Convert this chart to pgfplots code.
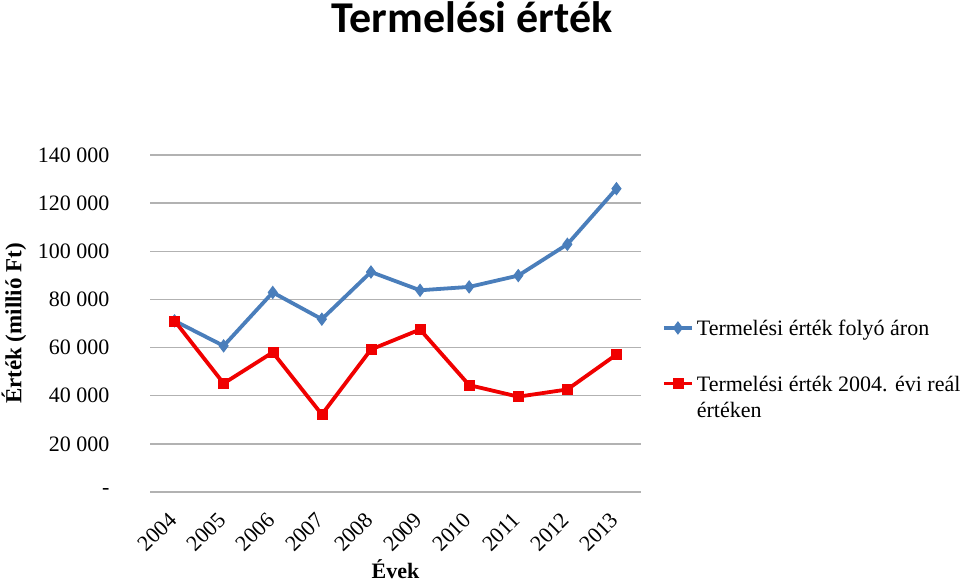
\documentclass[border=0pt]{standalone}
\usepackage{pgfplots}
\pgfplotsset{compat=1.18}
\usepackage{fontspec}
\setmainfont{Liberation Serif}
\newfontfamily\titlefont{Carlito}
\definecolor{bl}{RGB}{74,126,187}
\definecolor{rd}{RGB}{240,0,0}
\definecolor{gr}{RGB}{178,178,178}
\begin{document}
\fontsize{22bp}{26bp}\selectfont
\begin{tikzpicture}[x=1bp,y=1bp]
\path[use as bounding box] (0,0) rectangle (960,582);
\node[font=\titlefont\bfseries\fontsize{44bp}{48bp}\selectfont, anchor=base] at (472,549) {Termelési érték};
\begin{axis}[at={(150bp,90bp)}, anchor=south west, scale only axis,
  width=491bp, height=337bp,
  xmin=-0.5, xmax=9.5, ymin=0, ymax=140000,
  scaled y ticks=false,
  xtick={0,1,2,3,4,5,6,7,8,9},
  xticklabels={2004,2005,2006,2007,2008,2009,2010,2011,2012,2013},
  ytick={0,20000,40000,60000,80000,100000,120000,140000},
  yticklabels={-\hspace{15bp},20 000,40 000,60 000,80 000,100 000,120 000,140 000},
  axis line style={draw=none}, major tick length=0pt,
  ymajorgrids, grid style={gr, line width=1.5bp},
  tick label style={font=\fontsize{22bp}{26bp}\selectfont},
  yticklabel style={anchor=east, xshift=-33bp},
  xticklabel style={rotate=45, anchor=east, yshift=-16bp, xshift=-11bp},
  xlabel={Évek}, ylabel={Érték (millió Ft)},
  every axis x label/.style={at={(axis description cs:0.5,-0.228)}, anchor=center, font=\bfseries\fontsize{22bp}{26bp}\selectfont},
  every axis y label/.style={at={(axis description cs:-0.277,0.5)}, anchor=center, rotate=90, font=\bfseries\fontsize{23bp}{26bp}\selectfont},
  legend style={draw=none, fill=none, at={(axis description cs:1.0428,0.509)}, anchor=north west,
    inner sep=0pt, outer sep=0pt, row sep=37bp, column sep=3bp, font=\fontsize{22bp}{26bp}\selectfont},
  legend cell align=left,
  legend image code/.code={\draw[mark repeat=2,mark phase=2] plot coordinates {(0bp,0bp)(14bp,0bp)(28bp,0bp)};},
]
\addplot[bl, line width=3.8bp, mark=diamond*, mark size=6bp, mark options={solid, fill=bl, line width=1bp}]
  coordinates {(0,71100)(1,60700)(2,82900)(3,71800)(4,91400)(5,83800)(6,85200)(7,89900)(8,102900)(9,126000)};
\addlegendentry[anchor=base west, yshift=-8bp, inner sep=0pt]{Termelési érték folyó áron}
\addplot[rd, line width=3.8bp, mark=square*, mark size=5bp, mark options={solid, fill=rd, line width=0.5bp}]
  coordinates {(0,71100)(1,45100)(2,58000)(3,32200)(4,59200)(5,67500)(6,44400)(7,39600)(8,42600)(9,57100)};
\addlegendentry[anchor=base west, yshift=-34bp, inner sep=0pt, align=left]{Termelési érték 2004. évi reál\\értéken}
\end{axis}
\end{tikzpicture}
\end{document}
